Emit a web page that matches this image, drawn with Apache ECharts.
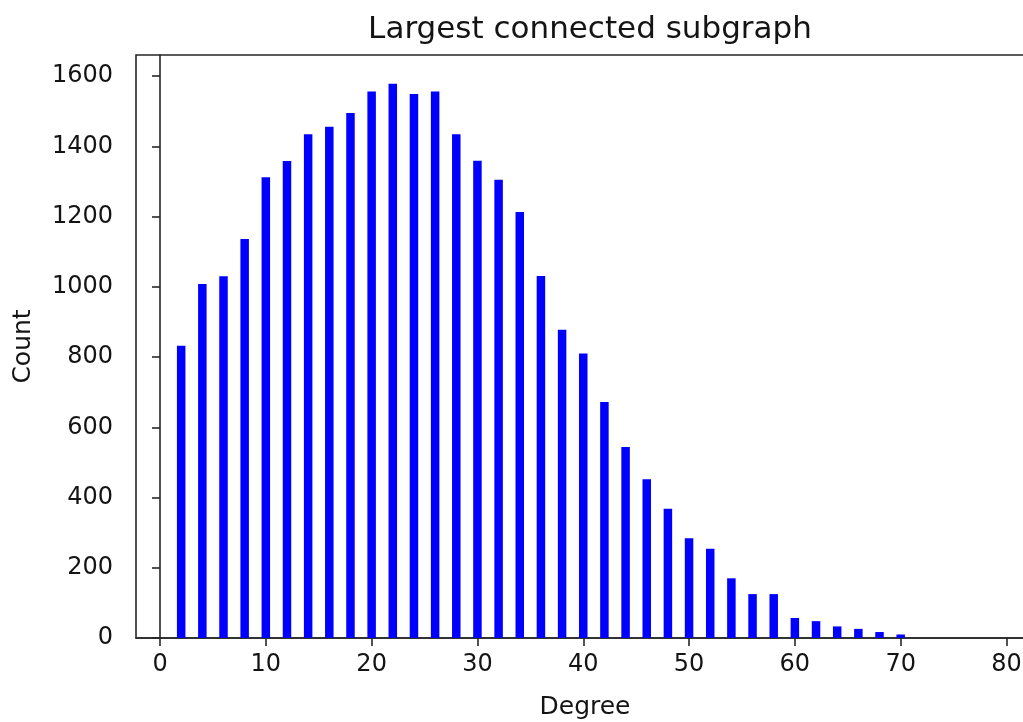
<!DOCTYPE html>
<html>
<head>
<meta charset="utf-8">
<style>
  html, body { margin: 0; padding: 0; background: #fff; }
  #chart { width: 1023px; height: 722px; }
</style>
<script src="https://cdn.jsdelivr.net/npm/echarts@6/dist/echarts.min.js"></script>
</head>
<body>
<div id="chart"></div>
<script>
// Degree distribution of the largest connected subgraph
const degrees = [2, 4, 6, 8, 10, 12, 14, 16, 18, 20, 22, 24, 26, 28, 30, 32, 34, 36,
                 38, 40, 42, 44, 46, 48, 50, 52, 54, 56, 58, 60, 62, 64, 66, 68, 70];
const counts = [832, 1008, 1030, 1136, 1312, 1358, 1434, 1456, 1495, 1556, 1578, 1549,
                1556, 1434, 1359, 1305, 1213, 1031, 878, 810, 672, 544, 452, 368, 284,
                254, 170, 125, 125, 57, 48, 33, 26, 17, 10];
const xTicks = [0, 10, 20, 30, 40, 50, 60, 70, 80];
const yTicks = [0, 200, 400, 600, 800, 1000, 1200, 1400, 1600];

const font = 'DejaVu Sans';
const textColor = '#141414';
const spineColor = '#262626';

const chart = echarts.init(document.getElementById('chart'), null, { renderer: 'canvas' });

chart.setOption({
  animation: false,
  backgroundColor: '#ffffff',
  title: {
    text: 'Largest connected subgraph',
    left: 585,
    top: 9,
    textAlign: 'center',
    textStyle: { fontFamily: font, fontSize: 31, fontWeight: 'normal', color: textColor }
  },
  grid: {
    left: 136, top: 55, right: -11, bottom: 84,
    outerBoundsMode: 'none',
    show: true, borderColor: spineColor, borderWidth: 1.6, backgroundColor: 'transparent'
  },
  xAxis: {
    type: 'value',
    min: -2.27,
    max: 82.6,
    name: 'Degree',
    nameLocation: 'middle',
    nameGap: 57,
    nameTextStyle: { fontFamily: font, fontSize: 25, color: textColor },
    splitLine: { show: false },
    axisLine: { show: true, onZero: false, lineStyle: { color: spineColor, width: 1.6 } },
    axisTick: { show: true, customValues: xTicks, length: 8, lineStyle: { color: spineColor, width: 1.6 } },
    axisLabel: {
      customValues: xTicks, margin: 15,
      fontFamily: font, fontSize: 24, color: textColor,
      formatter: v => String(v)
    }
  },
  yAxis: {
    type: 'value',
    min: 0,
    max: 1660,
    name: 'Count',
    nameLocation: 'middle',
    nameGap: 100,
    nameTextStyle: { fontFamily: font, fontSize: 25, color: textColor },
    splitLine: { show: false },
    axisLine: { show: true, lineStyle: { color: spineColor, width: 1.6 } },
    axisTick: { show: true, customValues: yTicks, length: 8, lineStyle: { color: spineColor, width: 1.6 } },
    axisLabel: {
      customValues: yTicks, margin: 23,
      fontFamily: font, fontSize: 24, color: textColor,
      formatter: v => String(v)
    }
  },
  series: [{
    type: 'bar',
    data: degrees.map((d, i) => [d, counts[i]]),
    barWidth: 8.5,
    itemStyle: { color: '#0000ff' }
  }]
});
</script>
</body>
</html>
